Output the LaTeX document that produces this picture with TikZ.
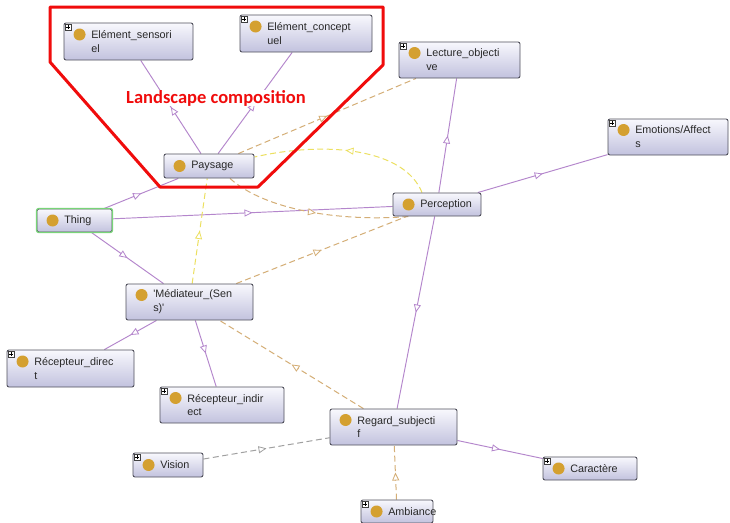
\documentclass[tikz,border=0pt]{standalone}
\usepackage{fontspec}
\setmainfont{Liberation Sans}
\newfontfamily\titlefont{Carlito}
\usetikzlibrary{arrows.meta,decorations.markings,calc}

\definecolor{subc}{RGB}{180,134,204}
\definecolor{tanc}{RGB}{212,174,118}
\definecolor{yelc}{RGB}{236,224,96}
\definecolor{grayc}{RGB}{160,160,160}
\definecolor{dotc}{RGB}{212,160,48}
\definecolor{boxtop}{RGB}{248,248,253}
\definecolor{boxbot}{RGB}{194,194,222}
\definecolor{boxdraw}{RGB}{80,80,92}
\definecolor{thingc}{RGB}{120,212,120}
\definecolor{txtc}{RGB}{40,40,40}
\definecolor{titlered}{RGB}{240,12,12}

\pgfdeclarelayer{bg}
\pgfsetlayers{bg,main}

\tikzset{
  clsbox/.style={rectangle, rounded corners=2pt, draw=boxdraw, line width=0.9pt,
    top color=boxtop, bottom color=boxbot, inner sep=0pt},
  clstext/.style={font=\fontsize{10.8}{13.8}\selectfont, text=txtc, align=left,
    inner sep=0pt, anchor=west},
  midarrow/.style={postaction={decorate}, decoration={markings,
    mark=at position 0.5 with {\arrow{Triangle[length=8pt,width=7pt,fill=white,line width=0.8pt]}}}},
  subedge/.style={draw=subc, line width=0.95pt, midarrow},
  tanedge/.style={draw=tanc, line width=1pt, dash pattern=on 6pt off 3.5pt, midarrow},
  yeledge/.style={draw=yelc, line width=1pt, dash pattern=on 6pt off 3.5pt, midarrow},
  grayedge/.style={draw=grayc, line width=1pt, dash pattern=on 6pt off 3.5pt, midarrow},
}

% name, x1, y1, x2, y2, text, dot dy
\newcommand\cls[7]{%
  \node[clsbox, minimum width={(#4)-(#2)}, minimum height={(#5)-(#3)}] (#1)
    at ({((#2)+(#4))/2},{((#3)+(#5))/2}) {};
  \fill[dotc] ($(#1.west)+(16,#7)$) circle[radius=6pt];
  \node[clstext] at ($(#1.west)+(27.5,0)$) {#6};
}
\newcommand\plusbox[1]{%
  \draw[fill=white, draw=black!75, line width=0.5pt] ($(#1.north west)+(1.5,1.5)$) rectangle ++(6,6);
  \draw[black, line width=0.5pt] ($(#1.north west)+(2.8,4.5)$) -- ++(3.4,0)
    ($(#1.north west)+(4.5,2.8)$) -- ++(0,3.4);
}

\begin{document}
\begin{tikzpicture}[x=1pt,y=-1pt]
\useasboundingbox (0,0) rectangle (730,522);

\cls{es}{64}{23}{193}{60}{Elément\_sensori\\el}{-7}
\cls{ec}{240}{15}{372}{52}{Elément\_concept\\uel}{-7}
\cls{lo}{399}{42}{520}{78}{Lecture\_objecti\\ve}{-7}
\cls{ea}{608}{119}{728}{155}{Emotions/Affect\\s}{-7}
\cls{pays}{164}{154}{254}{178}{Paysage}{0}
\cls{perc}{393}{193}{481}{216}{Perception}{0}
\cls{thing}{37}{209}{112}{232}{Thing}{0}
\cls{med}{126}{284}{253}{320}{\textquotesingle Médiateur\_(Sen\\s)\textquotesingle}{-7}
\cls{rd}{7}{350}{134}{387}{Récepteur\_direc\\t}{-7}
\cls{ri}{160}{387}{284}{423}{Récepteur\_indir\\ect}{-7}
\cls{reg}{330}{409}{457}{445}{Regard\_subjecti\\f}{-7}
\cls{vis}{133}{453}{203}{477}{Vision}{0}
\cls{car}{543}{457}{637}{480}{Caractère}{0}
\cls{amb}{361}{500}{433}{523}{Ambiance}{0}

\draw[thingc, line width=1.2pt, rounded corners=2pt] (thing.north west) rectangle (thing.south east);

\foreach \n in {es,ec,lo,ea,rd,ri,vis,car,amb} {\plusbox{\n}}

\begin{pgfonlayer}{bg}
  \fill[white] (0,0) rectangle (730,522);
  % subclass edges
  \draw[subedge] (pays) -- (es);
  \draw[subedge] (pays) -- (ec);
  \draw[subedge] (thing) -- (pays);
  \draw[subedge] (thing) -- (perc);
  \draw[subedge] (thing) -- (med);
  \draw[subedge] (med) -- (rd);
  \draw[subedge] (med) -- (ri);
  \draw[subedge] (perc) -- (lo);
  \draw[subedge] (perc) -- (ea);
  \draw[subedge] (perc) -- (reg);
  \draw[subedge] (reg) -- (car);
  % property edges
  \draw[tanedge] (pays) -- (lo);
  \draw[yeledge] ($(perc.north)+(-15,0)$) .. controls (405,150) and (330,140) .. ($(pays.east)+(0,-9)$);
  \draw[tanedge] ($(pays.south)+(21,0)$) .. controls (265,210) and (340,222) .. ($(perc.south west)+(17,0)$);
  \draw[yeledge] (med) -- (pays);
  \draw[tanedge] (med) -- (perc);
  \draw[tanedge] (reg) -- (med);
  \draw[grayedge] (vis) -- (reg);
  \draw[tanedge] (amb) -- (reg);
\end{pgfonlayer}

\node[font=\titlefont\bfseries\fontsize{18.5}{20}\selectfont, text=titlered, fill=white, inner sep=0.5pt]
  (title) at (216,98) {Landscape composition};
\draw[titlered, line width=3pt, line join=round]
  (50,7) -- (383,7) -- (383,65) -- (258,187) -- (160,187) -- (50,62) -- cycle;
\end{tikzpicture}
\end{document}
